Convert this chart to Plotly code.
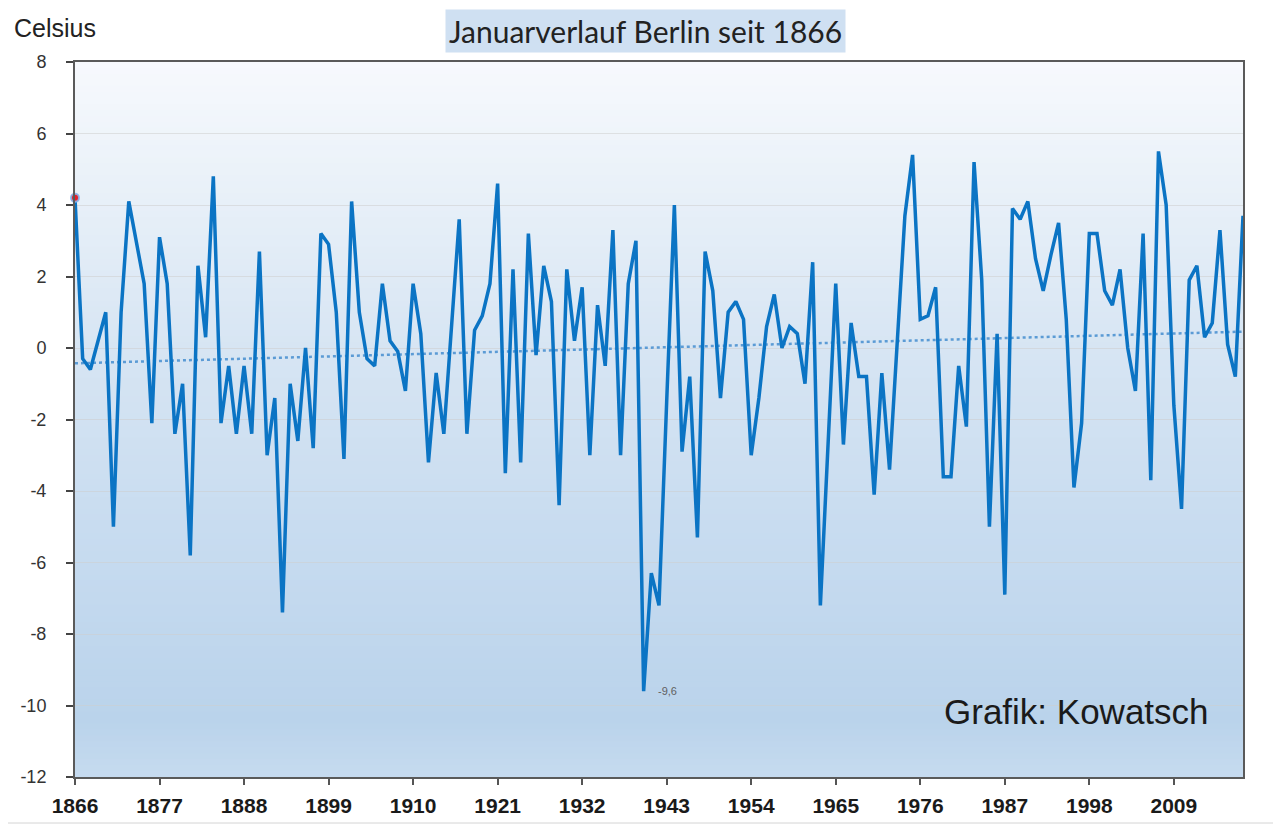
import numpy as np
import plotly.graph_objects as go

# ---------------- data ----------------
years = list(range(1866, 2019))
temps = [
    4.2, -0.3, -0.6, 0.2, 1.0, -5.0, 1.0, 4.1, 3.0, 1.8,      # 1866-1875
    -2.1, 3.1, 1.8, -2.4, -1.0, -5.8, 2.3, 0.3, 4.8, -2.1,    # 1876-1885
    -0.5, -2.4, -0.5, -2.4, 2.7, -3.0, -1.4, -7.4, -1.0, -2.6,  # 1886-1895
    0.0, -2.8, 3.2, 2.9, 1.0, -3.1, 4.1, 1.0, -0.3, -0.5,     # 1896-1905
    1.8, 0.2, -0.1, -1.2, 1.8, 0.4, -3.2, -0.7, -2.4, 0.6,    # 1906-1915
    3.6, -2.4, 0.5, 0.9, 1.8, 4.6, -3.5, 2.2, -3.2, 3.2,      # 1916-1925
    -0.2, 2.3, 1.3, -4.4, 2.2, 0.2, 1.7, -3.0, 1.2, -0.5,     # 1926-1935
    3.3, -3.0, 1.8, 3.0, -9.6, -6.3, -7.2, -1.5, 4.0, -2.9,   # 1936-1945
    -0.8, -5.3, 2.7, 1.6, -1.4, 1.0, 1.3, 0.8, -3.0, -1.4,    # 1946-1955
    0.6, 1.5, 0.0, 0.6, 0.4, -1.0, 2.4, -7.2, -2.5, 1.8,      # 1956-1965
    -2.7, 0.7, -0.8, -0.8, -4.1, -0.7, -3.4, 0.0, 3.7, 5.4,   # 1966-1975
    0.8, 0.9, 1.7, -3.6, -3.6, -0.5, -2.2, 5.2, 1.9, -5.0,    # 1976-1985
    0.4, -6.9, 3.9, 3.6, 4.1, 2.5, 1.6, 2.6, 3.5, 0.8,        # 1986-1995
    -3.9, -2.1, 3.2, 3.2, 1.6, 1.2, 2.2, 0.0, -1.2, 3.2,      # 1996-2005
    -3.7, 5.5, 4.0, -1.6, -4.5, 1.9, 2.3, 0.3, 0.7, 3.3,      # 2006-2015
    0.1, -0.8, 3.7,                                           # 2016-2018
]
tick_years = list(range(1866, 2010, 11))
y_ticks = list(range(-12, 9, 2))
title_text = "Januarverlauf Berlin seit 1866"
unit_text = "Celsius"
credit_text = "Grafik: Kowatsch"
min_label = "-9,6"

# ---------------- trend line (linear regression of the data) ----------------
yr = np.array(years, dtype=float)
tv = np.array(temps, dtype=float)
slope, intercept = np.polyfit(yr, tv, 1)
trend_x = [years[0], years[-1]]
trend_y = [slope * years[0] + intercept, slope * years[-1] + intercept]

imin = int(np.argmin(tv))

fig = go.Figure()

fig.add_trace(go.Scatter(
    x=trend_x, y=trend_y, mode="lines",
    line=dict(color="#5b9bd5", width=2.5, dash="dot"),
    hoverinfo="skip", showlegend=False,
))
fig.add_trace(go.Scatter(
    x=years, y=temps, mode="lines",
    line=dict(color="#0b74c4", width=3.5),
    showlegend=False,
))
fig.add_trace(go.Scatter(
    x=[years[0]], y=[temps[0]], mode="markers",
    marker=dict(color="#e8202a", size=8, line=dict(color="rgba(140,180,235,0.9)", width=2)),
    showlegend=False, cliponaxis=False,
))

# ---------------- gradient background ----------------
stops = [
    (0.00, (198, 219, 239)),
    (0.08, (186, 211, 235)),
    (0.35, (200, 220, 240)),
    (0.60, (215, 229, 243)),
    (0.85, (235, 242, 249)),
    (1.00, (247, 249, 253)),
]

def col_at(f):
    for (f0, c0), (f1, c1) in zip(stops[:-1], stops[1:]):
        if f0 <= f <= f1:
            t = (f - f0) / (f1 - f0)
            return "rgb(%d,%d,%d)" % tuple(round(a + (b - a) * t) for a, b in zip(c0, c1))
    return "rgb(%d,%d,%d)" % stops[-1][1]

shapes = []
n = 120
for k in range(n):
    f0 = k / n
    f1 = (k + 1) / n + 0.002
    shapes.append(dict(
        type="rect", xref="x domain", yref="y domain",
        x0=0, x1=1, y0=f0, y1=min(f1, 1),
        fillcolor=col_at((f0 + f1) / 2), line=dict(width=0), layer="below",
    ))

# page offset (body margin) compensation
OFF = 8
W, H = 1281, 829
L, R, T, B = 74.6 - OFF, 1243.5 - OFF, 62 - OFF, 777 - OFF
pw, ph = R - L, B - T

def px(xp):
    return (xp - OFF - L) / pw

def py(yp):
    return (B - (yp - OFF)) / ph

shapes.append(dict(
    type="rect", xref="paper", yref="paper",
    x0=px(6), x1=px(1275), y0=py(823), y1=py(6),
    line=dict(color="#d4d4d4", width=1), fillcolor="rgba(0,0,0,0)", layer="below",
))

annotations = [
    dict(text=title_text, xref="paper", yref="paper", x=px(646), y=py(31),
         xanchor="center", yanchor="middle", showarrow=False,
         font=dict(family="Lato, Open Sans, sans-serif", size=30, color="#222222"),
         bgcolor="#cfe0f2", borderpad=3),
    dict(text=unit_text, xref="paper", yref="paper", x=px(12), y=py(28),
         xanchor="left", yanchor="middle", showarrow=False,
         font=dict(family="Liberation Sans, Arial, sans-serif", size=25, color="#222222")),
    dict(text=credit_text, xref="paper", yref="paper", x=px(1211), y=py(711),
         xanchor="right", yanchor="middle", showarrow=False,
         font=dict(family="Liberation Sans, Arial, sans-serif", size=35, color="#1a1a1a")),
    dict(text=min_label, x=years[imin], y=temps[imin], xref="x", yref="y",
         xanchor="left", yanchor="middle", xshift=12, showarrow=False,
         font=dict(family="Liberation Sans, Arial, sans-serif", size=11, color="#606060")),
]

fig.update_layout(
    width=W, height=H,
    margin=dict(l=L, r=W - R, t=T, b=H - B),
    paper_bgcolor="white",
    plot_bgcolor="rgba(0,0,0,0)",
    shapes=shapes,
    annotations=annotations,
    showlegend=False,
    font=dict(family="Liberation Sans, Arial, sans-serif", color="#333333"),
)

fig.update_xaxes(
    range=[years[0], years[-1]],
    tickmode="array", tickvals=tick_years, ticktext=[str(t) for t in tick_years],
    tickfont=dict(family="Liberation Sans, Arial", size=21, color="#1a1a1a", weight="bold"),
    ticks="outside", ticklen=6, tickcolor="#555555", tickwidth=1.5,
    showline=True, linecolor="#5a5a5a", linewidth=2, mirror=True,
    showgrid=False, zeroline=False, ticklabelstandoff=3,
)
fig.update_yaxes(
    range=[-12, 8],
    tickmode="array", tickvals=y_ticks, ticktext=[str(t) for t in y_ticks],
    tickfont=dict(family="Liberation Sans, Arial", size=18, color="#333333"),
    ticks="outside", ticklen=7, tickcolor="#444444", tickwidth=1.5,
    showline=True, linecolor="#5a5a5a", linewidth=2, mirror=True,
    showgrid=True, gridcolor="rgba(205,205,205,0.55)", gridwidth=1,
    zeroline=False, ticklabelstandoff=16,
)

fig.write_html("out.html")
